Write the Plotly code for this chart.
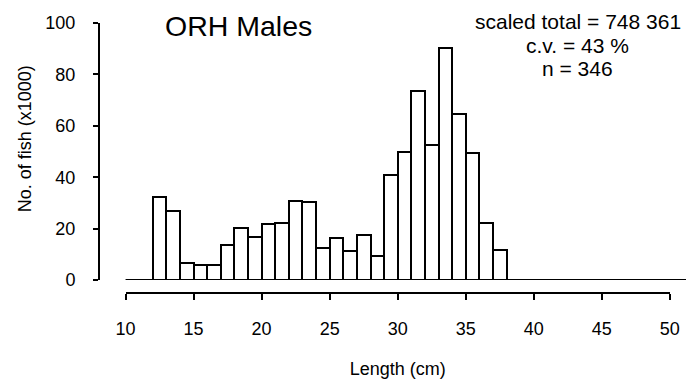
import plotly.graph_objects as go

# Length classes (cm, lower bound of each 1-cm bin) and estimated numbers (x1000)
lengths = list(range(10, 51))
counts = [0, 0,
          32.4, 27.0, 6.7, 5.8, 5.8, 13.6, 20.3, 16.8, 21.7, 22.3,
          30.7, 30.2, 12.6, 16.2, 11.3, 17.4, 9.5, 40.8, 49.8, 73.4,
          52.4, 90.2, 64.4, 49.4, 22.3, 11.7,
          0, 0, 0, 0, 0, 0, 0, 0, 0, 0, 0, 0, 0]
x_ticks = [10, 15, 20, 25, 30, 35, 40, 45, 50]
y_ticks = [0, 20, 40, 60, 80, 100]

title_text = "ORH Males"
stats_lines = ["scaled total = 748 361", "c.v. = 43 %", "n = 346"]
x_title = "Length (cm)"
y_title = "No. of fish (x1000)"

FONT = "Liberation Sans, Arial, Helvetica, sans-serif"
W, H = 696, 383
ml, mr, mt, mb = 100, 0, 23, 90
pw, ph = W - ml - mr, H - mt - mb
px_per_cm = 13.84
x_left_px, x_right_px = 126, 679.5  # pixel positions of 10 and 50


def px_x(p):
    return (p - ml) / pw


def px_y(p):
    return (H - mb - p) / ph


fig = go.Figure()

# Bars (nonzero classes) on the bar axis
bar_x = [l + 0.5 for l, c in zip(lengths, counts) if c > 0]
bar_y = [c for c in counts if c > 0]
fig.add_trace(go.Bar(
    x=bar_x, y=bar_y, width=1.0,
    marker=dict(color="white", line=dict(color="black", width=2)),
    xaxis="x2", yaxis="y", showlegend=False, hoverinfo="skip",
))
# Baseline of zero classes
fig.add_trace(go.Scatter(
    x=[lengths[0], lengths[-1] + 1.3], y=[0, 0], mode="lines",
    line=dict(color="black", width=2),
    xaxis="x2", yaxis="y", showlegend=False, hoverinfo="skip",
))
# invisible trace so the tick axis is drawn
fig.add_trace(go.Scatter(
    x=lengths, y=counts, mode="none", xaxis="x", yaxis="y",
    showlegend=False, hoverinfo="skip",
))

x0 = 10 - (x_left_px - ml) / px_per_cm
x1 = 10 + (W - mr - x_left_px) / px_per_cm

stat_y = [21, 45, 68]
annotations = [
    dict(text=y_title, textangle=-90, xref="paper", yref="paper",
         x=px_x(24), y=px_y(139),
         xanchor="center", yanchor="middle", showarrow=False,
         font=dict(size=18)),
    dict(text=title_text, xref="paper", yref="paper",
         x=px_x(241), y=px_y(25.5),
         xanchor="center", yanchor="middle", showarrow=False,
         font=dict(size=28.5)),
]
for line, yy in zip(stats_lines, stat_y):
    annotations.append(dict(
        text=line, xref="paper", yref="paper",
        x=px_x(586), y=px_y(yy), xanchor="center", yanchor="middle",
        showarrow=False, font=dict(size=21)))

fig.update_layout(
    width=W, height=H,
    margin=dict(l=ml, r=mr, t=mt, b=mb),
    paper_bgcolor="white", plot_bgcolor="white",
    font=dict(family=FONT, color="black", size=18),
    bargap=0,
    xaxis2=dict(
        domain=[0, 1], range=[x0, x1], anchor="y",
        showline=False, showticklabels=False, ticks="",
        showgrid=False, zeroline=False,
    ),
    xaxis=dict(
        domain=[px_x(x_left_px), px_x(x_right_px)],
        range=[10, 50], anchor="free", position=0,
        showline=True, linecolor="black", linewidth=2,
        ticks="outside", ticklen=6, tickwidth=2, tickcolor="black",
        tickvals=x_ticks, tickfont=dict(size=18), ticklabelstandoff=13,
        showgrid=False, zeroline=False,
        title=dict(text=x_title, font=dict(size=18), standoff=24),
    ),
    yaxis=dict(
        domain=[px_y(280), 1], range=[0, 100], anchor="x2",
        showline=True, linecolor="black", linewidth=2,
        ticks="outside", ticklen=5, tickwidth=2, tickcolor="black",
        tickvals=y_ticks, tickfont=dict(size=18), ticklabelstandoff=14,
        showgrid=False, zeroline=False,
    ),
    annotations=annotations,
)

fig.write_html("out.html")
